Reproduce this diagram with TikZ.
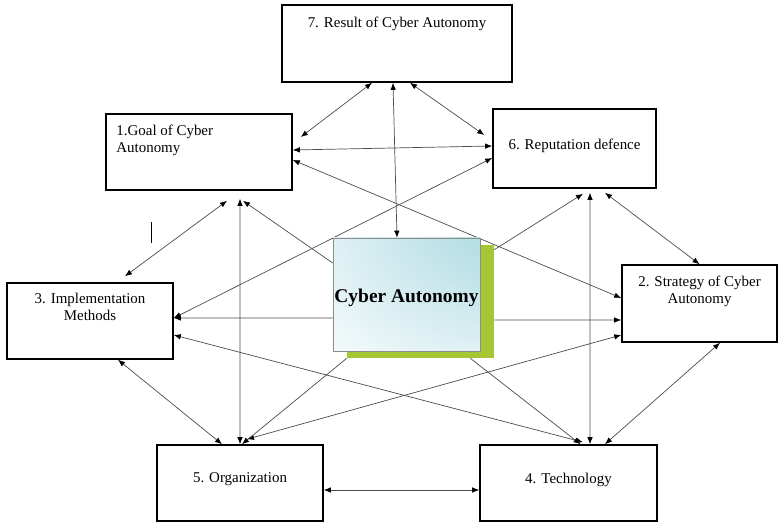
\documentclass[tikz,border=0pt]{standalone}
\usepackage{fontspec}
\setmainfont{Liberation Serif}
\usetikzlibrary{arrows.meta, shadows}
\pgfdeclarelayer{background}
\pgfsetlayers{background,main}

\definecolor{glowcyan}{RGB}{168,216,224}
\definecolor{leafgreen}{RGB}{166,198,52}
\pgfdeclareradialshading{coreglow}{\pgfpoint{50bp}{50bp}}{color(0bp)=(glowcyan); color(15bp)=(glowcyan); color(80bp)=(white); color(150bp)=(white)}

\tikzstyle{link} = [line width=0.7bp, draw=black!70, {Latex[length=7bp,width=5.5bp,black]}-{Latex[length=7bp,width=5.5bp,black]}]

\begin{document}
\begin{tikzpicture}[
  x=1bp, y=-1bp,
  box/.style={rectangle, draw=black, line width=1.6bp, inner sep=0pt},
  boxtext/.style={font=\fontsize{15}{17}\selectfont, align=center, inner sep=0pt, anchor=north},
  core/.style={rectangle, draw=black!45, line width=0.7bp, shading=coreglow, inner sep=0pt,
    general shadow={fill=leafgreen, shadow xshift=14bp, shadow yshift=-7bp},
    font=\fontsize{19.5}{22}\selectfont\bfseries, text height=21bp, text depth=4bp},
  flow/.style={line width=0.7bp, draw=black!70, -{Latex[length=7bp,width=5.5bp,black]}}
]
\useasboundingbox (0,0) rectangle (778,523);

% the seven parts round the core
\node[box, minimum width=230bp, minimum height=77bp,
  label={[boxtext, yshift=-12.5bp]north:7. Result of Cyber Autonomy}] (result) at (397,43.5) {};
\node[box, minimum width=186bp, minimum height=76bp,
  label={[boxtext, anchor=north west, align=left, xshift=11bp, yshift=-11.5bp]north west:1.Goal of Cyber\\Autonomy}] (goal) at (199,152) {};
\node[box, minimum width=163bp, minimum height=79bp,
  label={[boxtext, yshift=-30.5bp]north:6. Reputation defence}] (reput) at (574.5,148.5) {};
\node[box, minimum width=155bp, minimum height=77bp,
  label={[boxtext, yshift=-11.5bp]north:2. Strategy of Cyber\\Autonomy}] (strat) at (699.5,303.5) {};
\node[box, minimum width=166bp, minimum height=76bp,
  label={[boxtext, yshift=-10.5bp]north:3. Implementation\\Methods}] (impl) at (90,321) {};
\node[box, minimum width=166bp, minimum height=76bp,
  label={[boxtext, yshift=-28.5bp]north:5. Organization}] (org) at (240,483) {};
\node[box, minimum width=177bp, minimum height=76bp,
  label={[boxtext, yshift=-28.5bp]north:4. Technology}] (tech) at (568.5,483) {};

% core box with green shadow
\node[core, minimum width=147bp, minimum height=113bp] (core) at (406.5,294.5) {Cyber Autonomy};

\begin{pgfonlayer}{background}
% two-way links
\draw[link] ([xshift=-25bp]result.south) -- ([xshift=8bp,yshift=15bp]goal.east);
\draw[link] ([xshift=-4bp]result.south) -- ([xshift=-9.5bp]core.north);
\draw[link] ([xshift=13bp]result.south) -- ([xshift=-8bp,yshift=13.5bp]reput.west);
\draw[link] ([yshift=2bp]goal.east) -- ([yshift=2.5bp]reput.west);
\draw[link] ([yshift=-8bp]goal.east) -- ([yshift=5.5bp]strat.west);
\draw[link] ([yshift=3bp]impl.east) -- ([yshift=-9.5bp]reput.west);
\draw[link] ([xshift=28bp,yshift=-10bp]goal.south) -- ([xshift=35bp,yshift=6bp]impl.north);
\draw[link] ([xshift=41bp,yshift=-8bp]goal.south) -- (org.north);
\draw[link] ([xshift=21.5bp]tech.north) -- ([xshift=15.5bp,yshift=-4bp]reput.south);
\draw[link] (strat.north) -- ([xshift=30.5bp,yshift=-4bp]reput.south);
\draw[link] ([yshift=-31.5bp]strat.west) -- ([xshift=7bp,yshift=5bp]org.north);
\draw[link] ([yshift=-14bp]impl.east) -- ([xshift=14.5bp,yshift=2bp]tech.north);
\draw[link] ([xshift=28bp]impl.south) -- ([xshift=-18bp]org.north);
\draw[link] ([xshift=20.5bp]strat.south) -- ([xshift=36.5bp]tech.north);
\draw[link] ([yshift=-7bp]org.east) -- ([yshift=-7bp]tech.west);

% links out of the core
\draw[flow] ([yshift=31.5bp]core.west) -- ([xshift=44bp,yshift=-10bp]goal.south);
\draw[flow] ([xshift=14bp,yshift=-12bp]core.north east) -- ([xshift=8.5bp,yshift=-5bp]reput.south);
\draw[flow] ([xshift=14bp,yshift=-25.5bp]core.east) -- ([yshift=-16.5bp]strat.west);
\draw[flow] ([yshift=-23.5bp]core.west) -- ([yshift=3bp]impl.east);
\draw[flow] ([xshift=-10bp,yshift=-7bp]core.south east) -- ([xshift=12bp]tech.north);
\draw[flow] ([xshift=14bp,yshift=-7bp]core.south west) -- ([xshift=2bp]org.north);
\end{pgfonlayer}

% small stray tick
\draw[line width=0.8bp] (151,222) -- (151,243);

\end{tikzpicture}
\end{document}
